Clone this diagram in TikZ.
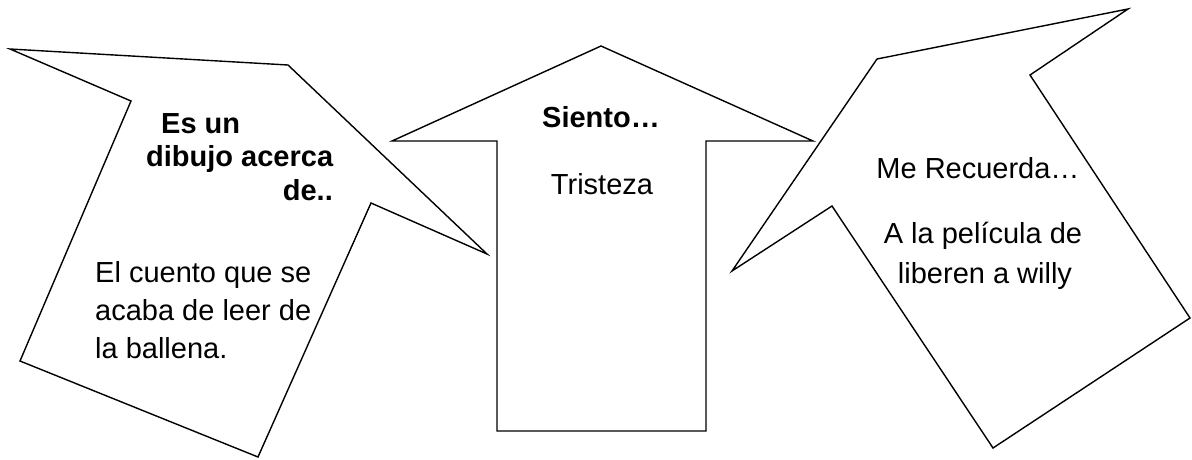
\documentclass[tikz,border=0pt]{standalone}
\usepackage{fontspec}
\setmainfont{Liberation Sans}
\begin{document}
\begin{tikzpicture}[x=1pt,y=-1pt,
  arrowshape/.style={draw=black,line width=1.4pt,line join=miter,fill=white},
  txt/.style={inner sep=0pt,font=\fontsize{29}{34}\selectfont},
  btxt/.style={inner sep=0pt,font=\fontsize{29}{34}\selectfont\bfseries}]
\useasboundingbox (0,0) rectangle (1192,459);
% left arrow
\draw[arrowshape] (10,49) -- (288,65) -- (487,254) -- (371,203) -- (258,457) -- (20,361) -- (131,101) -- cycle;
% center arrow
\draw[arrowshape] (601,46) -- (813,141) -- (706,141) -- (706,431) -- (497,431) -- (497,141) -- (392,141) -- cycle;
% right arrow
\draw[arrowshape] (877,59) -- (1128,9) -- (1030,75) -- (1190,318) -- (993,448) -- (832,206) -- (732,271) -- cycle;
% left texts
\node[btxt,anchor=base west] (l1) at (161,133) {Es un};
\node[btxt,anchor=base west] (l2) at (146,166) {dibujo acerca};
\node[btxt,anchor=base east] (l3) at (333,200) {de..};
\node[txt,anchor=base west] (l4) at (95,282) {El cuento que se};
\node[txt,anchor=base west] (l5) at (95,320) {acaba de leer de};
\node[txt,anchor=base west] (l6) at (95,358) {la ballena.};
% center texts
\node[btxt,anchor=base] (c1) at (601,127) {Siento…};
\node[txt,anchor=base] (c2) at (602,194) {Tristeza};
% right texts
\node[txt,anchor=base] (r1) at (978,178) {Me Recuerda…};
\node[txt,anchor=base] (r2) at (983,243) {A la película de};
\node[txt,anchor=base] (r3) at (985,283) {liberen a willy};
\end{tikzpicture}
\end{document}
